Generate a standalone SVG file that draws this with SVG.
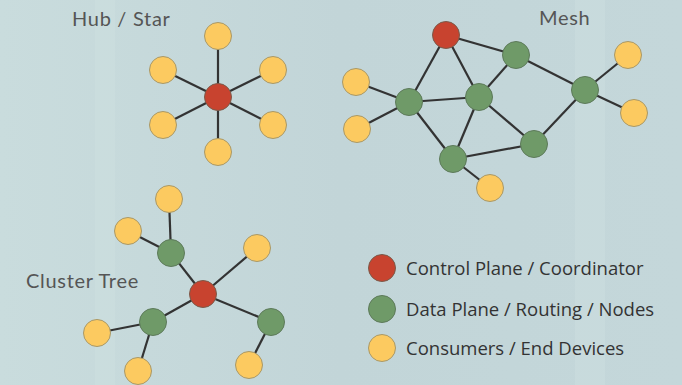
<svg xmlns="http://www.w3.org/2000/svg" width="682" height="385" viewBox="0 0 682 385">
<style>
.e{stroke:#333;stroke-width:2.2;fill:none}
.r{fill:#c8432f;stroke:#7a5a4a;stroke-width:1}
.g{fill:#6f9a68;stroke:#5d7a5a;stroke-width:1}
.y{fill:#fcca60;stroke:#a89868;stroke-width:1}
.t{font-family:"Lato","Noto Sans",sans-serif;font-size:20px;letter-spacing:0.7px;fill:#555}
.l{font-family:"Open Sans","Noto Sans",sans-serif;font-size:18.5px;fill:#333}
</style>
<defs>
<linearGradient id="bg" x1="0" y1="0" x2="1" y2="0">
<stop offset="0" stop-color="#c9dcdd"/>
<stop offset="0.5" stop-color="#c2d5d8"/>
<stop offset="1" stop-color="#c4d7da"/>
</linearGradient>
</defs>
<rect width="682" height="385" fill="url(#bg)"/>
<rect x="95" y="0" width="20" height="385" fill="#cfe0e0" opacity="0.4"/>
<rect x="575" y="0" width="30" height="385" fill="#cfe0e0" opacity="0.4"/>
<g id="connectors">
<line class="e" x1="218" y1="97" x2="218" y2="36"/>
<line class="e" x1="218" y1="97" x2="163" y2="70"/>
<line class="e" x1="218" y1="97" x2="273" y2="70"/>
<line class="e" x1="218" y1="97" x2="163" y2="125"/>
<line class="e" x1="218" y1="97" x2="273" y2="125"/>
<line class="e" x1="218" y1="97" x2="218" y2="152"/>
<line class="e" x1="446" y1="35" x2="516" y2="55"/>
<line class="e" x1="446" y1="35" x2="409" y2="102"/>
<line class="e" x1="446" y1="35" x2="479" y2="97"/>
<line class="e" x1="516" y1="55" x2="479" y2="97"/>
<line class="e" x1="516" y1="55" x2="585" y2="90"/>
<line class="e" x1="409" y1="102" x2="479" y2="97"/>
<line class="e" x1="409" y1="102" x2="453" y2="159"/>
<line class="e" x1="479" y1="97" x2="453" y2="159"/>
<line class="e" x1="479" y1="97" x2="534" y2="144"/>
<line class="e" x1="534" y1="144" x2="585" y2="90"/>
<line class="e" x1="453" y1="159" x2="534" y2="144"/>
<line class="e" x1="409" y1="102" x2="356" y2="82"/>
<line class="e" x1="409" y1="102" x2="357" y2="129"/>
<line class="e" x1="585" y1="90" x2="628" y2="55"/>
<line class="e" x1="585" y1="90" x2="634" y2="113"/>
<line class="e" x1="453" y1="159" x2="490" y2="188"/>
<line class="e" x1="203" y1="294" x2="171" y2="253"/>
<line class="e" x1="203" y1="294" x2="257" y2="248"/>
<line class="e" x1="203" y1="294" x2="153" y2="322"/>
<line class="e" x1="203" y1="294" x2="271" y2="322"/>
<line class="e" x1="171" y1="253" x2="169" y2="199"/>
<line class="e" x1="171" y1="253" x2="128" y2="231"/>
<line class="e" x1="153" y1="322" x2="97" y2="333"/>
<line class="e" x1="153" y1="322" x2="138" y2="371"/>
<line class="e" x1="271" y1="322" x2="249" y2="365"/>
</g>
<g id="star-hub"><circle class="r" cx="218" cy="97" r="13.5"/></g>
<g id="star-y1"><circle class="y" cx="218" cy="36" r="13.5"/></g>
<g id="star-y2"><circle class="y" cx="163" cy="70" r="13.5"/></g>
<g id="star-y3"><circle class="y" cx="273" cy="70" r="13.5"/></g>
<g id="star-y4"><circle class="y" cx="163" cy="125" r="13.5"/></g>
<g id="star-y5"><circle class="y" cx="273" cy="125" r="13.5"/></g>
<g id="star-y6"><circle class="y" cx="218" cy="152" r="13.5"/></g>
<g id="mesh-r"><circle class="r" cx="446" cy="35" r="13.5"/></g>
<g id="mesh-g1"><circle class="g" cx="516" cy="55" r="13.5"/></g>
<g id="mesh-g2"><circle class="g" cx="409" cy="102" r="13.5"/></g>
<g id="mesh-g3"><circle class="g" cx="479" cy="97" r="13.5"/></g>
<g id="mesh-g4"><circle class="g" cx="585" cy="90" r="13.5"/></g>
<g id="mesh-g5"><circle class="g" cx="534" cy="144" r="13.5"/></g>
<g id="mesh-g6"><circle class="g" cx="453" cy="159" r="13.5"/></g>
<g id="mesh-y1"><circle class="y" cx="356" cy="82" r="13.5"/></g>
<g id="mesh-y2"><circle class="y" cx="357" cy="129" r="13.5"/></g>
<g id="mesh-y3"><circle class="y" cx="628" cy="55" r="13.5"/></g>
<g id="mesh-y4"><circle class="y" cx="634" cy="113" r="13.5"/></g>
<g id="mesh-y5"><circle class="y" cx="490" cy="188" r="13.5"/></g>
<g id="tree-r"><circle class="r" cx="203" cy="294" r="13.5"/></g>
<g id="tree-g1"><circle class="g" cx="171" cy="253" r="13.5"/></g>
<g id="tree-g2"><circle class="g" cx="153" cy="322" r="13.5"/></g>
<g id="tree-g3"><circle class="g" cx="271" cy="322" r="13.5"/></g>
<g id="tree-y1"><circle class="y" cx="169" cy="199" r="13.5"/></g>
<g id="tree-y2"><circle class="y" cx="128" cy="231" r="13.5"/></g>
<g id="tree-y3"><circle class="y" cx="257" cy="248" r="13.5"/></g>
<g id="tree-y4"><circle class="y" cx="97" cy="333" r="13.5"/></g>
<g id="tree-y5"><circle class="y" cx="138" cy="371" r="13.5"/></g>
<g id="tree-y6"><circle class="y" cx="249" cy="365" r="13.5"/></g>
<g id="titles">
<text class="t" x="72" y="26">Hub / Star</text>
<text class="t" x="539" y="25">Mesh</text>
<text class="t" x="26" y="288">Cluster Tree</text>
</g>
<g id="legend">
<circle class="r" cx="382" cy="268" r="13.5"/>
<circle class="g" cx="382" cy="309" r="13.5"/>
<circle class="y" cx="382" cy="348" r="13.5"/>
<text class="l" x="406" y="275">Control Plane / Coordinator</text>
<text class="l" x="406" y="316">Data Plane / Routing / Nodes</text>
<text class="l" x="406" y="355">Consumers / End Devices</text>
</g>
</svg>
